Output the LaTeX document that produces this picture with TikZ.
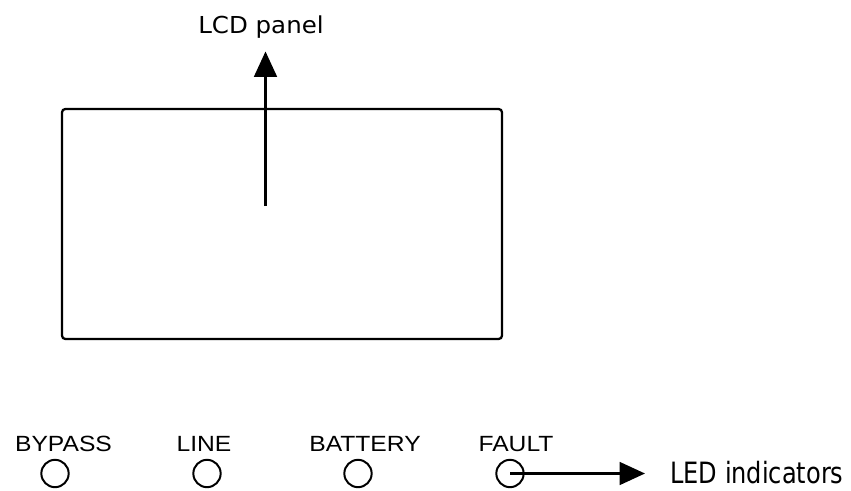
\documentclass[tikz,border=0pt]{standalone}
\usepackage{fontspec}
\usetikzlibrary{arrows.meta}
\newfontfamily\lcdfont[FakeStretch=1.05]{DejaVu Sans}
\newfontfamily\tagfont[FakeStretch=0.82]{DejaVu Sans}
\newfontfamily\ledfont[FakeStretch=1.12]{Liberation Sans}
\newcommand*{\ledrow}{473.5}

\begin{document}
\begin{tikzpicture}[x=0.75pt,y=-0.75pt]
\tikzset{ledlamp/.style={draw,circle,line width=1.5pt,minimum size=20.5pt,inner sep=0pt},
  ledname/.style={anchor=base,inner sep=0pt,font=\ledfont\fontsize{16.5}{18}\selectfont},
  callout/.style={line width=1.9pt,-{Triangle[length=19pt,width=17pt]}}};

    \useasboundingbox (0,0) rectangle (851,490);

    % LCD panel
    \node[draw,line width=1.7pt,rounded corners=2.5pt,minimum width=330pt,minimum height=172.5pt,inner sep=0pt] (panel) at (282,224) {};
    \node[anchor=base,inner sep=0pt,font=\lcdfont\fontsize{17.5}{20}\selectfont] (lcd) at (261,33) {LCD panel};
    \coordinate (lcdfoot) at (265.5,206);
    \draw[callout] (lcdfoot) -- ([yshift=-10pt]lcdfoot |- lcd.south);

    % LED lamps
    \node[ledlamp] (bypass) at (55,\ledrow) {};
    \node[ledlamp] (line) at (207,\ledrow) {};
    \node[ledlamp] (battery) at (358,\ledrow) {};
    \node[ledlamp] (fault) at (510,\ledrow) {};
    \node[ledname] (bypassname) at (63.5,451) {BYPASS};
    \node[ledname] (linename) at (204,451) {LINE};
    \node[ledname] (batteryname) at (365,451) {BATTERY};
    \node[ledname] (faultname) at (516,451) {FAULT};

    \node[anchor=base west,inner sep=0pt,font=\tagfont\fontsize{22}{24}\selectfont] (tag) at (670,483) {LED indicators};
    \draw[callout,shorten >=18.75pt] (fault.center) -- (fault.center -| tag.west);
\end{tikzpicture}
\end{document}
